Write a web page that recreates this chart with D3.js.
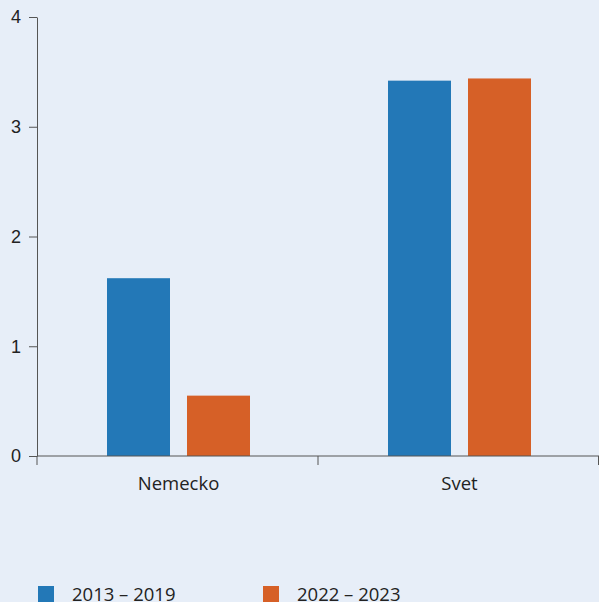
<!DOCTYPE html>
<html>
<head>
<meta charset="utf-8">
<script src="https://cdn.jsdelivr.net/npm/d3@7"></script>
<style>
  body { margin: 0; background: #e7eef8; }
  svg { display: block; font-family: "Open Sans", sans-serif; }
</style>
</head>
<body>
<svg id="chart"></svg>
<script>
// Data
var categories = ["Nemecko", "Svet"];
var seriesNames = ["2013 – 2019", "2022 – 2023"];
var series2013 = [1.62, 3.42];
var series2022 = [0.55, 3.44];
var yTicks = [0, 1, 2, 3, 4];
var colors = ["#2378b7", "#d66027"];

var W = 599, H = 602;
var margin = {top: 17, right: 0, bottom: 146, left: 37};
var width = W - margin.left - margin.right,
    height = H - margin.top - margin.bottom;

var svg = d3.select("#chart")
    .attr("width", W)
    .attr("height", H);

var g = svg.append("g")
    .attr("transform", "translate(" + margin.left + "," + margin.top + ")");

// Scales
var x = d3.scaleBand()
    .domain(categories)
    .range([0, width]);

var xInner = d3.scaleBand()
    .domain(seriesNames)
    .range([x.bandwidth() / 2 - 70.5, x.bandwidth() / 2 + 72.5])
    .paddingInner(0.2125);

var y = d3.scaleLinear()
    .domain([0, 4])
    .range([height, 0]);

// Bars
var rows = categories.map(function(c, i) {
  return {cat: c, values: [series2013[i], series2022[i]]};
});

var groups = g.selectAll(".group")
    .data(rows)
    .enter()
    .append("g")
    .attr("transform", function(d) { return "translate(" + x(d.cat) + ",0)"; });

groups.selectAll("rect")
    .data(function(d) { return d.values.map(function(v, j) { return {name: seriesNames[j], v: v, j: j}; }); })
    .enter()
    .append("rect")
    .attr("x", function(d) { return xInner(d.name); })
    .attr("width", xInner.bandwidth())
    .attr("y", function(d) { return y(d.v); })
    .attr("height", function(d) { return height - y(d.v); })
    .style("fill", function(d) { return colors[d.j]; });

// Y axis
var yAxis = g.append("g")
    .call(d3.axisLeft(y).tickValues(yTicks).tickFormat(d3.format("d")).tickSize(8).tickSizeOuter(0));
yAxis.select(".domain").attr("stroke", "#555");
yAxis.selectAll(".tick line").attr("stroke", "#555");
yAxis.selectAll("text")
    .attr("x", -16)
    .attr("fill", "#222")
    .style("font-size", "18px");

// X axis: ticks at band edges
var xAxis = g.append("g")
    .attr("transform", "translate(0," + height + ")");
xAxis.append("line")
    .attr("x1", 0).attr("x2", width)
    .attr("stroke", "#555");
var edges = [0].concat(categories.map(function(c) { return x(c) + x.bandwidth(); }));
xAxis.selectAll(".edge")
    .data(edges)
    .enter()
    .append("line")
    .attr("x1", function(d) { return Math.min(d, width - 0.5); })
    .attr("x2", function(d) { return Math.min(d, width - 0.5); })
    .attr("y1", 0).attr("y2", 9)
    .attr("stroke", "#555");
xAxis.selectAll(".lab")
    .data(categories)
    .enter()
    .append("text")
    .attr("x", function(d) { return x(d) + x.bandwidth() / 2 + 1; })
    .attr("y", 34)
    .attr("text-anchor", "middle")
    .attr("fill", "#222")
    .style("font-size", "18.5px")
    .text(function(d) { return d; });

// Legend
var legend = svg.append("g")
    .attr("transform", "translate(38,586)");
var li = legend.selectAll("g")
    .data(seriesNames)
    .enter()
    .append("g")
    .attr("transform", function(d, i) { return "translate(" + (i * 225) + ",0)"; });
li.append("rect")
    .attr("width", 16).attr("height", 16)
    .style("fill", function(d, i) { return colors[i]; });
li.append("text")
    .attr("x", 34)
    .attr("y", 15)
    .attr("fill", "#222")
    .style("font-size", "18.5px")
    .text(function(d) { return d; });
</script>
</body>
</html>
